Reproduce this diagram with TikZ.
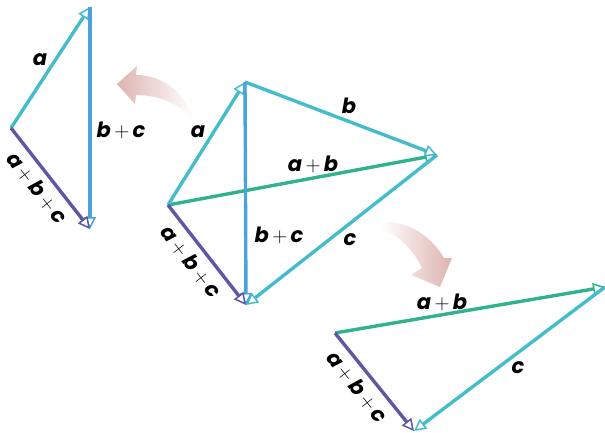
\documentclass[tikz,border=0pt]{standalone}
\usepackage{fontspec}
\setmainfont{Poppins}
\usetikzlibrary{arrows.meta}
\definecolor{vcyan}{HTML}{45BCCB}
\definecolor{vblue}{HTML}{4CA2DA}
\definecolor{vgreen}{HTML}{2FB38D}
\definecolor{vpurple}{HTML}{5E57A3}
\definecolor{turnpink}{HTML}{DDB3AF}
\newcommand{\vv}[1]{{\bfseries\itshape #1}}
\newcommand{\pl}{\,$+$\,}
\tikzset{
  vec/.style={line width=3.4pt,-{Triangle[length=12pt,width=12pt,line width=1.5pt,fill=white]}},
  lbl/.style={font=\fontsize{21}{21}\selectfont,inner sep=1pt},
}
\begin{document}
\begin{tikzpicture}[x=1pt,y=-1pt]
\useasboundingbox (0,0) rectangle (605,433);
% turning arrows
\shade[left color=turnpink,right color=white]
  (117,84) -- (137,66) -- (136,75) .. controls (165,75) and (185,95) .. (193,118)
  .. controls (180,105) and (160,95) .. (136,95) -- (135,104) -- cycle;
\shade[left color=white,right color=turnpink]
  (380,222) .. controls (410,220) and (432,238) .. (444,258) -- (452,258) -- (440,287)
  -- (411,275) -- (422,268) .. controls (412,248) and (398,234) .. (380,229) -- cycle;

% left triangle
\coordinate (o1) at (11,128);
\coordinate (a1) at (90,7);
\coordinate (c1) at (90,229);
\draw[vec,vcyan] (o1) -- (a1);
\draw[vec,vblue] (a1) -- (c1);
\draw[vec,vpurple] (o1) -- (c1);
\node[lbl] (la1) at (40,60) {\vv{a}};
\node[lbl] (lbc1) at (121,130) {\vv{b}\pl\vv{c}};
\node[lbl,rotate=-51.7] (labc1) at (37,188) {\vv{a}\pl\vv{b}\pl\vv{c}};

% middle figure
\coordinate (o2) at (168,205);
\coordinate (a2) at (245,82);
\coordinate (b2) at (437,155);
\coordinate (c2) at (246,305);
\draw[vec,vgreen] (o2) -- (b2);
\draw[vec,vcyan] (o2) -- (a2);
\draw[vec,vcyan] (a2) -- (b2);
\draw[vec,vcyan] (b2) -- (c2);
\draw[vec,vblue] (a2) -- (c2);
\draw[vec,vpurple] (o2) -- (c2);
\node[lbl] (la2) at (198,132) {\vv{a}};
\node[lbl] (lb2) at (349,106) {\vv{b}};
\node[lbl] (lab2) at (313,164) {\vv{a}\pl\vv{b}};
\node[lbl] (lbc2) at (279,235) {\vv{b}\pl\vv{c}};
\node[lbl] (lc2) at (350,240) {\vv{c}};
\node[lbl,rotate=-52.4] (labc2) at (191,262) {\vv{a}\pl\vv{b}\pl\vv{c}};

% right triangle
\coordinate (o3) at (335,333);
\coordinate (b3) at (605,287);
\coordinate (c3) at (414,431);
\draw[vec,vgreen] (o3) -- (b3);
\draw[vec,vcyan] (b3) -- (c3);
\draw[vec,vpurple] (o3) -- (c3);
\node[lbl] (lab3) at (442,302) {\vv{a}\pl\vv{b}};
\node[lbl] (lc3) at (518,368) {\vv{c}};
\node[lbl,rotate=-51.6] (labc3) at (357,387) {\vv{a}\pl\vv{b}\pl\vv{c}};
\end{tikzpicture}
\end{document}
